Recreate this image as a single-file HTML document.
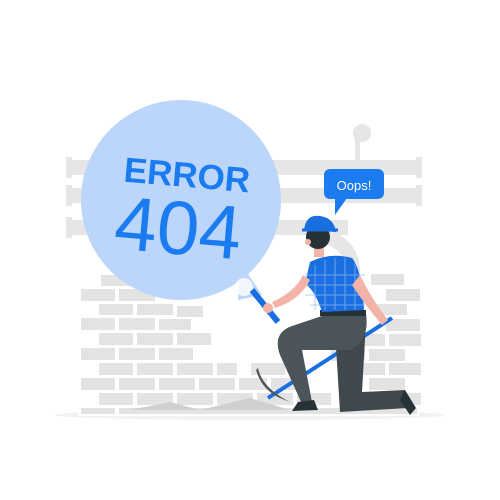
<!DOCTYPE html>
<html><head><style>html,body{margin:0;padding:0;background:#fff}svg{display:block}</style></head>
<body>
<svg width="500" height="500" viewBox="0 0 500 500" xmlns="http://www.w3.org/2000/svg">
<ellipse cx="250" cy="415" rx="195" ry="5" fill="#f2f2f2"/>
<g fill="#e6e6e6">
<rect x="68" y="160" width="352" height="15"/>
<rect x="68" y="188" width="352" height="15"/>
<rect x="68" y="220" width="280" height="15"/>
<rect x="355" y="138" width="5" height="22"/>
<circle cx="362" cy="133" r="9"/>
<rect x="66" y="157" width="6" height="21"/><rect x="416" y="157" width="6" height="21"/>
<rect x="66" y="185" width="6" height="21"/><rect x="416" y="185" width="6" height="21"/>
<rect x="66" y="217" width="6" height="21"/>
<path d="M320 230 a40 40 0 0 1 40 40 v40 h-14 v-40 a26 26 0 0 0 -26 -26z"/>
</g>
<g fill="#e3e3e3" stroke="#fff" stroke-width="2">
<rect x="100" y="274" width="36" height="13"/>
<rect x="80" y="288" width="36" height="14"/><rect x="118" y="288" width="38" height="14"/>
<rect x="98" y="303" width="36" height="13"/><rect x="136" y="303" width="38" height="13"/><rect x="176" y="305" width="28" height="13"/>
<rect x="80" y="317" width="36" height="14"/><rect x="118" y="317" width="38" height="14"/><rect x="158" y="318" width="34" height="13"/>
<rect x="98" y="332" width="36" height="14"/><rect x="136" y="332" width="38" height="14"/><rect x="176" y="332" width="36" height="14"/>
<rect x="80" y="347" width="36" height="14"/><rect x="118" y="347" width="38" height="14"/><rect x="158" y="347" width="36" height="14"/>
<rect x="98" y="362" width="36" height="14"/><rect x="136" y="362" width="38" height="14"/><rect x="176" y="362" width="38" height="14"/><rect x="216" y="362" width="22" height="14"/>
<rect x="80" y="377" width="36" height="14"/><rect x="118" y="377" width="38" height="14"/><rect x="158" y="377" width="38" height="14"/><rect x="198" y="377" width="38" height="14"/><rect x="238" y="377" width="30" height="14"/>
<rect x="98" y="392" width="36" height="14"/><rect x="136" y="392" width="38" height="14"/><rect x="176" y="392" width="38" height="14"/><rect x="216" y="392" width="38" height="14"/><rect x="256" y="392" width="38" height="14"/>
<rect x="80" y="407" width="36" height="8"/><rect x="118" y="407" width="300" height="8"/>
<rect x="370" y="273" width="35" height="13"/>
<rect x="385" y="288" width="36" height="14"/>
<rect x="372" y="303" width="36" height="13"/>
<rect x="385" y="318" width="36" height="14"/>
<rect x="350" y="333" width="36" height="14"/><rect x="388" y="333" width="34" height="14"/>
<rect x="330" y="348" width="36" height="14"/><rect x="368" y="348" width="38" height="14"/>
<rect x="250" y="362" width="36" height="14"/><rect x="350" y="362" width="36" height="14"/><rect x="388" y="362" width="34" height="14"/>
<rect x="270" y="377" width="36" height="14"/><rect x="368" y="377" width="38" height="14"/>
<rect x="296" y="392" width="36" height="14"/><rect x="388" y="392" width="34" height="14"/>
</g>
<path d="M130 410 l40 -8 l30 8z M200 410 l50 -12 l40 12z" fill="#cfcfcf"/>
<path d="M240 262 L262 295 L238 300z" fill="#bcd6fb"/>
<circle cx="181" cy="200" r="100" fill="#bcd6fb"/>
<circle cx="244" cy="287" r="9" fill="#fff" opacity=".8"/>
<text x="187" y="187" text-anchor="middle" font-family="Liberation Sans, sans-serif" font-weight="bold" font-size="35" fill="#1a7cf0" transform="rotate(5 187 175)">ERROR</text>
<text x="178" y="254" text-anchor="middle" font-family="Liberation Sans, sans-serif" font-size="76" fill="#1a7cf0" transform="rotate(5 178 230)">404</text>
<rect x="324" y="169" width="60" height="30" rx="6" fill="#1a7cf0"/>
<path d="M335 198 l0 17 l12 -17z" fill="#1a7cf0"/>
<text x="354" y="190" text-anchor="middle" font-family="Liberation Sans, sans-serif" font-size="13" fill="#fff">Oops!</text>
<path d="M268 398 L392 318" stroke="#1a6fe0" stroke-width="4"/>
<path d="M258 368 Q262 388 290 402 L280 398 Q262 390 256 370z" fill="#555"/>
<!-- back leg -->
<path d="M335 330 L366 322 L362 392 L405 390 L408 408 L340 412 Z" fill="#3f484c"/>
<path d="M405 390 L416 408 L410 415 L400 400z" fill="#263238"/>
<!-- front leg -->
<path d="M322 316 L366 314 Q370 340 350 350 L302 350 L312 402 L302 404 L280 355 Q272 333 292 326 Z" fill="#4a5459"/>
<path d="M298 402 L314 400 L318 410 L292 411z" fill="#263238"/>
<rect x="320" y="310" width="46" height="6" fill="#263238"/>
<path d="M310 262 Q330 252 352 258 Q362 270 364 310 L322 312 Q315 290 305 284z" fill="#1a6fe0"/>
<g stroke="#8fbaf5" stroke-width="1" opacity=".7">
<path d="M315 265v45M325 260v50M335 258v52M345 258v52M355 262v48M305 275h60M305 285h60M305 295h60M310 305h55"/>
</g>
<path d="M360 275 Q372 300 388 320 L382 325 Q365 305 352 285z" fill="#f4b3a8"/>
<path d="M310 280 Q300 300 275 308 L272 302 Q295 292 303 275z" fill="#f4b3a8"/>
<path d="M252 290 L278 322" stroke="#1a6fe0" stroke-width="6"/>
<circle cx="268" cy="308" r="5" fill="#f4b3a8"/>
<rect x="314" y="245" width="10" height="12" fill="#f4b3a8"/>
<circle cx="318" cy="237" r="12" fill="#263238"/>
<circle cx="308" cy="242" r="3" fill="#f4b3a8"/>
<path d="M304 230 Q306 214 320 216 Q334 218 336 232z" fill="#1a6fe0"/>
<path d="M302 230 h36" stroke="#1a6fe0" stroke-width="3"/>
</svg>
</body></html>
